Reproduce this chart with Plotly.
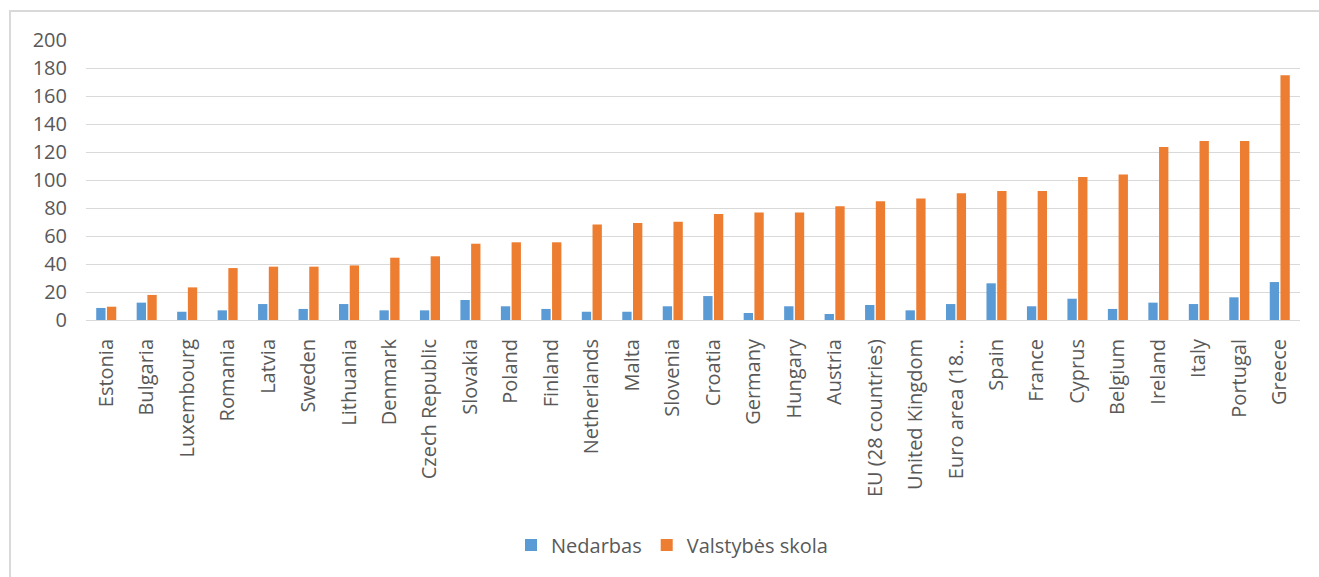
import plotly.graph_objects as go

countries = ["Estonia", "Bulgaria", "Luxembourg", "Romania", "Latvia", "Sweden",
             "Lithuania", "Denmark", "Czech Republic", "Slovakia", "Poland", "Finland",
             "Netherlands", "Malta", "Slovenia", "Croatia", "Germany", "Hungary",
             "Austria", "EU (28 countries)", "United Kingdom", "Euro area (18...",
             "Spain", "France", "Cyprus", "Belgium", "Ireland", "Italy", "Portugal", "Greece"]

nedarbas = [8.6, 12.4, 5.9, 6.9, 11.4, 7.9, 11.4, 6.9, 6.9, 14.3, 9.8, 7.9,
            5.9, 5.9, 9.8, 17.1, 5.0, 9.8, 4.3, 10.7, 6.9, 11.4,
            26.2, 9.8, 15.2, 7.9, 12.4, 11.4, 16.2, 27.1]

skola = [9.5, 17.9, 23.3, 37.1, 38.1, 38.1, 39.0, 44.5, 45.5, 54.5, 55.5, 55.5,
         68.3, 69.3, 70.2, 75.7, 76.7, 76.7, 81.2, 84.8, 86.7, 90.5,
         92.1, 92.1, 102.1, 104.0, 123.6, 127.9, 127.9, 174.8]

y_ticks = [0, 20, 40, 60, 80, 100, 120, 140, 160, 180, 200]

W, H = 1319, 577
L, R, T, B = 86, 19, 40, 257
pw, ph = W - L - R, H - T - B

def px_x(x):
    return (x - L) / pw

def px_y(y):
    return (H - B - y) / ph

fig = go.Figure()
fig.add_trace(go.Bar(x=countries, y=nedarbas, name="Nedarbas",
                     marker=dict(color="#5B9BD5", line=dict(width=0))))
fig.add_trace(go.Bar(x=countries, y=skola, name="Valstybės skola",
                     marker=dict(color="#ED7D31", line=dict(width=0))))

tick_font = dict(family="Open Sans", size=20, color="#595959")

fig.update_layout(
    width=W, height=H,
    margin=dict(l=L, r=R, t=T, b=B, pad=0),
    paper_bgcolor="white", plot_bgcolor="white",
    barmode="group", bargap=0.47, bargroupgap=0.13,
    showlegend=True,
    legend=dict(orientation="h", x=px_x(672), xanchor="center",
                y=px_y(545), yanchor="middle",
                font=dict(family="Open Sans", size=20, color="#595959"),
                itemsizing="constant", traceorder="normal",
                bgcolor="rgba(0,0,0,0)"),
    xaxis=dict(type="category", tickangle=-90, tickfont=tick_font,
               showgrid=False, showline=True, linecolor="#D9D9D9", linewidth=1,
               ticks="", ticklabelstandoff=10),
    yaxis=dict(range=[0, 200], tickvals=y_ticks, tickfont=dict(family="Open Sans", size=20, color="#595959"),
               showgrid=True, gridcolor="#D9D9D9", gridwidth=1,
               zeroline=True, zerolinecolor="#D9D9D9", zerolinewidth=1,
               showline=False, ticks="", ticklabelstandoff=18),
    shapes=[dict(type="rect", xref="paper", yref="paper",
                 x0=px_x(10), x1=px_x(1330), y0=px_y(590), y1=px_y(11),
                 line=dict(color="#D9D9D9", width=2), fillcolor="rgba(0,0,0,0)",
                 layer="below")],
)

fig.write_html("out.html")
